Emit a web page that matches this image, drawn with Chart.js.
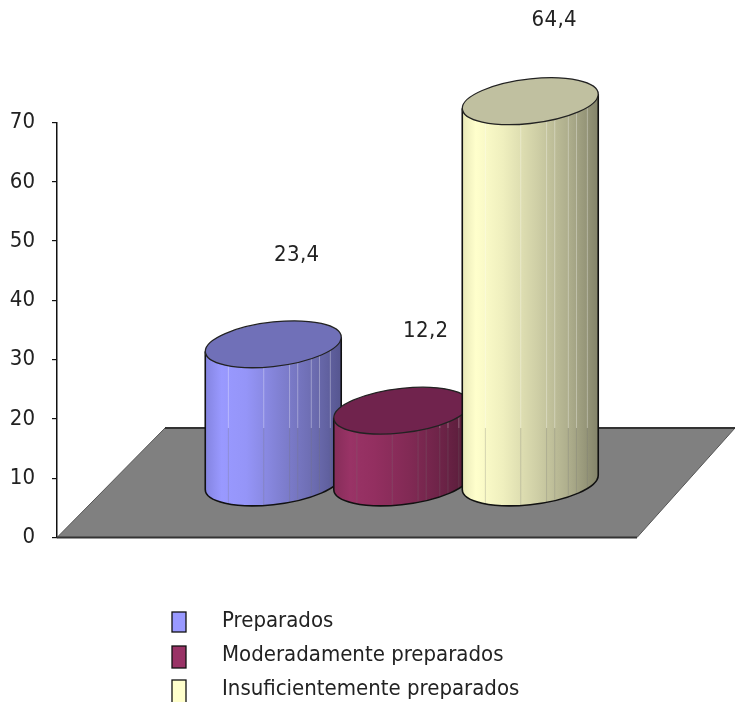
<!DOCTYPE html>
<html>
<head>
<meta charset="utf-8">
<style>
html,body{margin:0;padding:0;background:#fff;overflow:hidden}
canvas{display:block;filter:blur(0.35px)}
</style>
<script src="https://cdn.jsdelivr.net/npm/chart.js@4/dist/chart.umd.min.js"></script>
</head>
<body>
<canvas id="c" width="735" height="702" style="width:735px;height:702px"></canvas>
<script>
const categories = [''];
const seriesNames = ['Preparados', 'Moderadamente preparados', 'Insuficientemente preparados'];
const preparados = [23.4];
const moderados = [12.2];
const insuficientes = [64.4];
const yTicks = [0, 10, 20, 30, 40, 50, 60, 70];

const FONT = '"Liberation Sans Narrow","DejaVu Sans Condensed","Liberation Sans",sans-serif';
const TEXT = '#222222';
const legendColors = ['#9999FF', '#993366', '#FFFFCC'];
const topColors = ['#7070B8', '#70234D', '#C0C0A0'];
const bodyStops = [
  [[0, '#8484E0'], [0.12, '#9999FF'], [0.3, '#9595F8'], [0.55, '#8080D2'], [0.8, '#6C6CB0'], [1, '#565690']],
  [[0, '#862D59'], [0.12, '#993366'], [0.3, '#932F60'], [0.55, '#822A55'], [0.8, '#6C2347'], [1, '#561C38']],
  [[0, '#E8E8B8'], [0.1, '#FFFFCC'], [0.3, '#EFEFBE'], [0.55, '#CFCFA6'], [0.8, '#ABAB8A'], [1, '#84846A']]
];
const stripeFractions = [0.17, 0.43, 0.62, 0.68, 0.78, 0.84, 0.92];
const labelOffsets = [[23.5, -89], [24, -79.5], [24, -80.5]];

const DEPTH_X = 54.75, DEPTH_Y = 54.5, FLOOR_SHIFT_X = 108, FLOOR_SHIFT_Y = 109.5;
const SKEW = -0.105, RY = 22.3;

function drawCylinder(chart, index) {
  const {ctx, scales: {y}} = chart;
  const meta = chart.getDatasetMeta(index);
  const el = meta.data[0];
  const cx = el.x, w = el.width, rx = w / 2;
  const grad = ctx.createLinearGradient(cx - rx, 0, cx + rx, 0);
  bodyStops[index].forEach(s => grad.addColorStop(s[0], s[1]));
  el.options = Object.assign({}, el.options, {backgroundColor: grad, borderWidth: 0, inflateAmount: 0});
  ctx.save();
  ctx.translate(DEPTH_X, -DEPTH_Y);
  ctx.translate(cx, 0);
  ctx.transform(1, SKEW, 0, 1, 0, 0);
  ctx.translate(-cx, 0);
  ctx.beginPath();
  ctx.moveTo(cx - rx, el.base - 3);
  ctx.lineTo(cx - rx, el.base);
  ctx.ellipse(cx, el.base, rx, RY, 0, Math.PI, 0, true);
  ctx.lineTo(cx + rx, el.base - 3);
  ctx.closePath();
  ctx.fillStyle = grad;
  ctx.fill();
  meta.controller.draw();
  const backLine = y.getPixelForValue(0) - FLOOR_SHIFT_Y;
  ctx.lineWidth = 1;
  stripeFractions.forEach(f => {
    const px = cx - rx + f * w;
    const t = (px - cx) / rx;
    const h = RY * Math.sqrt(1 - t * t);
    const split = backLine + DEPTH_Y - SKEW * (px - cx);
    ctx.strokeStyle = 'rgba(255,255,255,0.32)';
    ctx.beginPath();
    ctx.moveTo(px, el.y + h);
    ctx.lineTo(px, Math.max(split, el.y + h));
    ctx.stroke();
    ctx.strokeStyle = 'rgba(120,120,120,0.28)';
    ctx.beginPath();
    ctx.moveTo(px, Math.max(split, el.y + h));
    ctx.lineTo(px, el.base + h);
    ctx.stroke();
  });
  ctx.strokeStyle = '#111111';
  ctx.lineWidth = 1.6;
  ctx.beginPath();
  ctx.moveTo(cx - rx, el.y);
  ctx.lineTo(cx - rx, el.base);
  ctx.ellipse(cx, el.base, rx, RY, 0, Math.PI, 0, true);
  ctx.lineTo(cx + rx, el.y);
  ctx.stroke();
  ctx.beginPath();
  ctx.ellipse(cx, el.y, rx, RY, 0, 0, Math.PI * 2);
  ctx.fillStyle = topColors[index];
  ctx.fill();
  ctx.strokeStyle = '#222222';
  ctx.lineWidth = 1.3;
  ctx.stroke();
  ctx.restore();
}

const cylinders = {
  id: 'cylinders',
  beforeDatasetsDraw(chart) {
    const {ctx, scales: {x, y}} = chart;
    const y0 = y.getPixelForValue(0), l = x.left, r = x.right;
    ctx.save();
    ctx.beginPath();
    ctx.moveTo(l, y0);
    ctx.lineTo(r, y0);
    ctx.lineTo(r + FLOOR_SHIFT_X - 10, y0 - FLOOR_SHIFT_Y);
    ctx.lineTo(l + FLOOR_SHIFT_X, y0 - FLOOR_SHIFT_Y);
    ctx.closePath();
    ctx.fillStyle = '#808080';
    ctx.fill();
    ctx.lineWidth = 1;
    ctx.strokeStyle = '#555555';
    ctx.stroke();
    ctx.lineWidth = 2;
    ctx.strokeStyle = '#333333';
    ctx.beginPath();
    ctx.moveTo(l + FLOOR_SHIFT_X, y0 - FLOOR_SHIFT_Y);
    ctx.lineTo(r + FLOOR_SHIFT_X - 10, y0 - FLOOR_SHIFT_Y);
    ctx.moveTo(l, y0);
    ctx.lineTo(r, y0);
    ctx.stroke();
    ctx.restore();
  },
  beforeDatasetDraw() { return false; },
  afterDatasetsDraw(chart) {
    chart.data.datasets.forEach((ds, i) => drawCylinder(chart, i));
  },
  afterDraw(chart) {
    const {ctx} = chart;
    ctx.save();
    ctx.fillStyle = TEXT;
    ctx.font = '22px ' + FONT;
    ctx.textAlign = 'center';
    ctx.textBaseline = 'middle';
    ctx.letterSpacing = '0.4px';
    chart.data.datasets.forEach((ds, i) => {
      const el = chart.getDatasetMeta(i).data[0];
      const txt = String(ds.data[0]).replace('.', ',');
      ctx.fillText(txt, el.x + DEPTH_X + labelOffsets[i][0], el.y - DEPTH_Y + labelOffsets[i][1]);
    });
    const boxes = [[172, 612, 14, 20], [172, 646, 14, 22], [172, 680, 14, 23]];
    const bases = [627, 661, 695];
    ctx.textAlign = 'left';
    ctx.textBaseline = 'alphabetic';
    ctx.letterSpacing = '0px';
    seriesNames.forEach((name, i) => {
      const b = boxes[i];
      ctx.fillStyle = legendColors[i];
      ctx.fillRect(b[0], b[1], b[2], b[3]);
      ctx.strokeStyle = '#111111';
      ctx.lineWidth = 1.3;
      ctx.strokeRect(b[0], b[1], b[2], b[3]);
      ctx.fillStyle = TEXT;
      ctx.fillText(name, 222, bases[i]);
    });
    ctx.restore();
  }
};

new Chart(document.getElementById('c'), {
  type: 'bar',
  data: {
    labels: categories,
    datasets: [
      {label: seriesNames[0], data: preparados, backgroundColor: legendColors[0], clip: false},
      {label: seriesNames[1], data: moderados, backgroundColor: legendColors[1], clip: false},
      {label: seriesNames[2], data: insuficientes, backgroundColor: legendColors[2], clip: false}
    ]
  },
  options: {
    responsive: false,
    animation: false,
    devicePixelRatio: 1,
    layout: {padding: {left: 0, top: 122.5, right: 98, bottom: 164.5}},
    categoryPercentage: 0.6647,
    barPercentage: 1.058,
    plugins: {legend: {display: false}, tooltip: {enabled: false}},
    scales: {
      x: {
        grid: {display: false},
        ticks: {display: false},
        border: {display: false},
        afterFit(s) { s.height = 0; }
      },
      y: {
        min: 0,
        max: 70,
        afterBuildTicks(s) { s.ticks = yTicks.map(v => ({value: v})); },
        afterFit(s) { s.width = 57; },
        grid: {drawOnChartArea: false, drawTicks: true, tickLength: 5, color: '#111111', lineWidth: 1.2},
        border: {display: true, color: '#111111', width: 1.5},
        ticks: {color: TEXT, padding: 17, font: {family: FONT, size: 22}}
      }
    }
  },
  plugins: [cylinders]
});
</script>
</body>
</html>
